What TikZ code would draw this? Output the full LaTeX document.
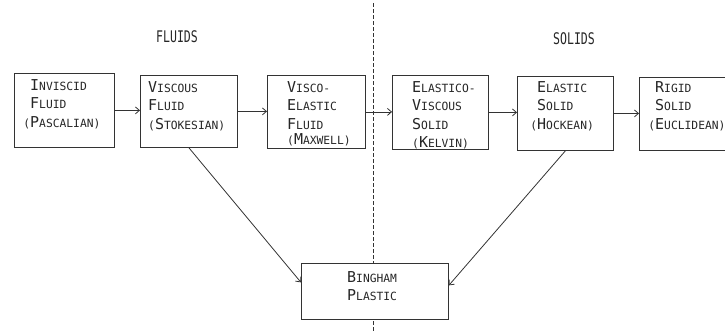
\documentclass[tikz,border=0pt]{standalone}
\usepackage{fontspec}
\setmonofont{DejaVu Sans Mono}
\usetikzlibrary{arrows.meta}
\newcommand{\Lt}[2]{{\fontsize{15}{15}\selectfont #1}{\fontsize{11.3}{11.3}\selectfont #2}}
\begin{document}
\begin{tikzpicture}[x=1pt,y=-1pt,
  box/.style={draw=black!80, fill=white, line width=0.8pt, inner sep=0pt, anchor=north west},
  lbl/.style={text=black!85, font=\ttfamily\fontsize{11.3}{18.5}\selectfont, align=left, inner sep=0pt, anchor=north west},
  head/.style={text=black!85, font=\ttfamily\fontsize{16}{16}\selectfont, inner sep=0pt},
  arr/.style={draw=black!80, line width=0.8pt, -{Straight Barb[length=4pt,width=7pt]}},
  divider/.style={draw=black!80, line width=0.8pt, dash pattern=on 4pt off 2pt}
]
\useasboundingbox (0,0) rectangle (725,332);
% divider
\coordinate (dtop) at (373,3);
\coordinate (dbot) at (373,332);
\draw[divider] (dtop) -- (dbot);
% headings
\node[head] (fl) at (177,37) {\scalebox{0.72}[1]{FLUIDS}};
\node[head] (so) at (574,39) {\scalebox{0.72}[1]{SOLIDS}};
% boxes
\node[box, minimum width=100pt, minimum height=74pt] (b1) at (14,73) {};
\node[box, minimum width=97pt, minimum height=72pt] (b2) at (140,75) {};
\node[box, minimum width=98pt, minimum height=73pt] (b3) at (267,75) {};
\node[box, minimum width=96pt, minimum height=74pt] (b4) at (392,75) {};
\node[box, minimum width=96pt, minimum height=74pt] (b5) at (517,76) {};
\node[box, minimum width=86pt, minimum height=73pt] (b6) at (639,77) {};
\node[box, minimum width=147pt, minimum height=56pt] (bp) at (301,263) {};
% texts
\node[lbl] (t1) at (30,79) {\Lt{I}{NVISCID}\\ \Lt{F}{LUID}\\ \llap{(}\Lt{P}{ASCALIAN})};
\node[lbl] (t2) at (148,81) {\Lt{V}{ISCOUS}\\ \Lt{F}{LUID}\\ (\Lt{S}{TOKESIAN})};
\node[lbl] (t3) at (287,81) {\Lt{V}{ISCO-}\\ \Lt{E}{LASTIC}\\ \Lt{F}{LUID}\\[-3.5pt] (\Lt{M}{AXWELL})};
\node[lbl] (t4) at (412,81) {\Lt{E}{LASTICO-}\\ \Lt{V}{ISCOUS}\\ \Lt{S}{OLID}\\ (\Lt{K}{ELVIN})};
\node[lbl] (t5) at (537,81) {\Lt{E}{LASTIC}\\ \Lt{S}{OLID}\\ \llap{(}\Lt{H}{OCKEAN})};
\node[lbl] (t6) at (655,81) {\Lt{R}{IGID}\\ \Lt{S}{OLID}\\ \llap{(}\Lt{E}{UCLIDEAN})};
\node[lbl] (tp) at (347,271) {\Lt{B}{INGHAM}\\ \Lt{P}{LASTIC}};
% arrows
\draw[arr] (b1.east) -- (b1.east -| b2.west);
\draw[arr] (b2.east) -- (b2.east -| b3.west);
\draw[arr] (b3.east) -- (b3.east -| b4.west);
\draw[arr] (b4.east) -- (b4.east -| b5.west);
\draw[arr] (b5.east) -- (b5.east -| b6.west);
\draw[arr] (b2.south) -- ([yshift=9pt]bp.west);
\draw[arr] (b5.south) -- ([yshift=6pt]bp.east);
\end{tikzpicture}
\end{document}
